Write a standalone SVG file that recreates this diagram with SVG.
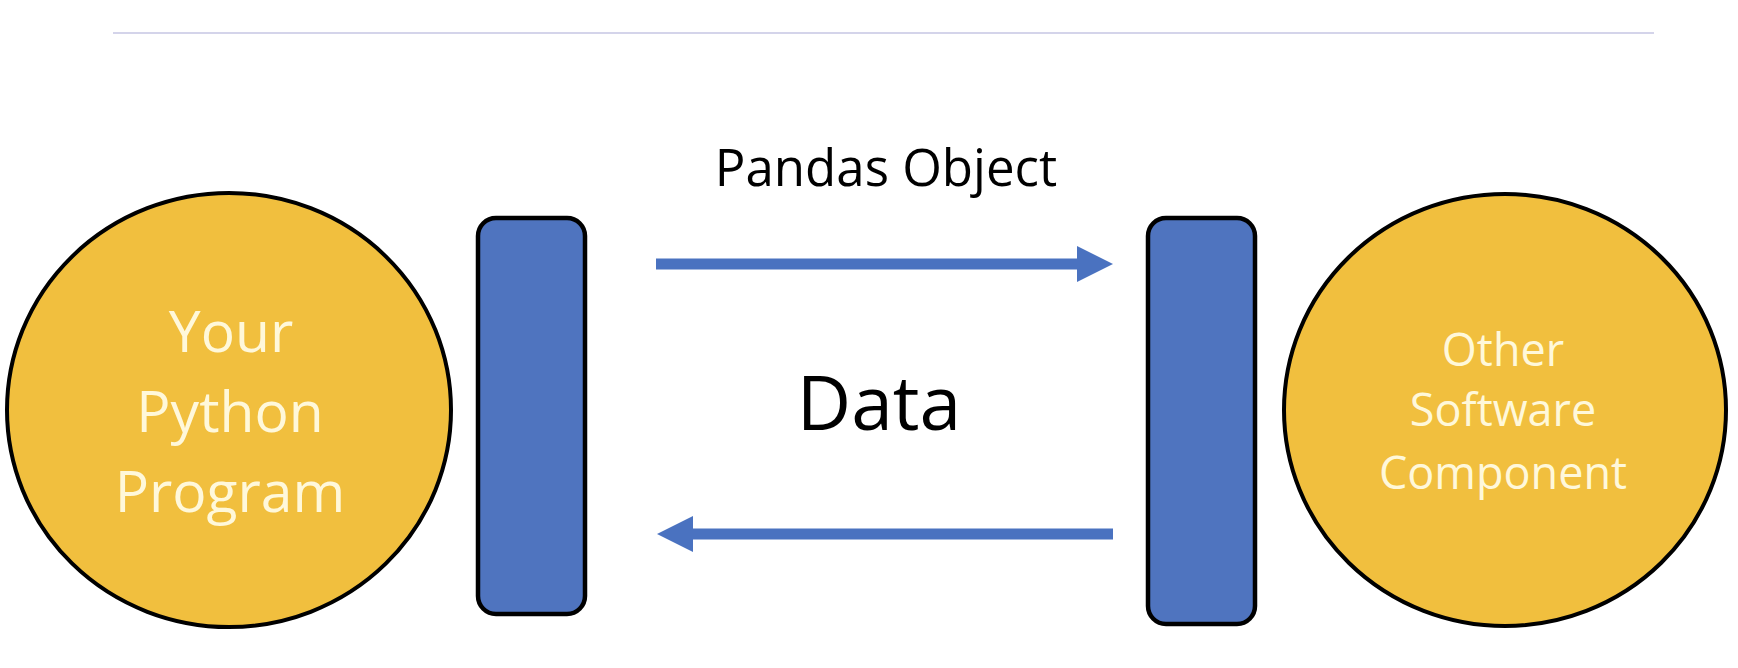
<svg xmlns="http://www.w3.org/2000/svg" width="1738" height="668" viewBox="0 0 1738 668">
<defs>
<style>
.circ{fill:#F1BF3E;stroke:#000;stroke-width:4}
.bar{fill:#4F74BF;stroke:#000;stroke-width:4.5}
.wt{font-family:"Open Sans","Liberation Sans",sans-serif;fill:#FFF8DA;text-anchor:middle}
.bt{font-family:"Open Sans","Liberation Sans",sans-serif;fill:#000;text-anchor:middle}
.conn{stroke:#4A72C0;stroke-width:11;fill:none}
.head{fill:#4A72C0;stroke:none}
</style>
</defs>
<rect width="1738" height="668" fill="#FFFFFF"/>
<line x1="113" y1="33" x2="1654" y2="33" stroke="#D4D4EA" stroke-width="2"/>
<g id="your-python-program">
<ellipse class="circ" cx="229" cy="410" rx="222" ry="217"/>
<text class="wt" x="231" y="352" font-size="57">Your</text>
<text class="wt" x="230" y="432" font-size="57">Python</text>
<text class="wt" x="230" y="512" font-size="57">Program</text>
</g>
<g id="left-interface">
<rect class="bar" x="478" y="218" width="107" height="396" rx="18"/>
</g>
<g id="right-interface">
<rect class="bar" x="1148" y="218" width="107" height="406" rx="18"/>
</g>
<g id="other-software-component">
<ellipse class="circ" cx="1505" cy="410" rx="221" ry="216"/>
<text class="wt" x="1503" y="366" font-size="45">Other</text>
<text class="wt" x="1503" y="426" font-size="45">Software</text>
<text class="wt" x="1503" y="489" font-size="45">Component</text>
</g>
<g id="labels">
<text class="bt" x="886" y="186" font-size="51">Pandas Object</text>
<text class="bt" x="879" y="430" font-size="75">Data</text>
</g>
<g id="connectors">
<line class="conn" x1="656" y1="264" x2="1080" y2="264"/>
<polygon class="head" points="1077,246 1113,264 1077,282"/>
<line class="conn" x1="1113" y1="534" x2="690" y2="534"/>
<polygon class="head" points="693,516 657,534 693,552"/>
</g>
</svg>
